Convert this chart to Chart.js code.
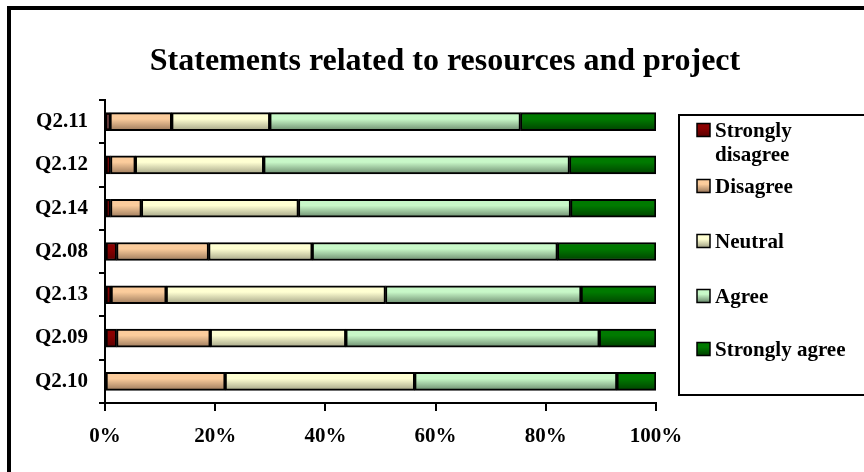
<!DOCTYPE html>
<html>
<head>
<meta charset="utf-8">
<title>Statements related to resources and project</title>
<script src="https://cdn.jsdelivr.net/npm/chart.js@4.4.1/dist/chart.umd.min.js"></script>
<style>
    html, body { margin: 0; padding: 0; background: #fff; }
    canvas { display: block; }
</style>
</head>
<body>
<canvas id="resourcesChart" width="864" height="472"></canvas>
<script>
const questions = ['Q2.11', 'Q2.12', 'Q2.14', 'Q2.08', 'Q2.13', 'Q2.09', 'Q2.10'];

// share of answers per statement, in percent
const stronglyDisagree = [0.9, 1.0, 1.0, 2.1, 1.1, 2.1, 0];
const disagree = [11.2, 4.5, 5.6, 16.7, 10.0, 17.0, 21.8];
const neutral = [17.8, 23.3, 28.5, 18.8, 39.8, 24.6, 34.4];
const agree = [45.5, 55.5, 49.4, 44.5, 35.5, 46.0, 36.7];
const stronglyAgree = [24.6, 15.7, 15.5, 17.9, 13.6, 10.3, 7.1];

const percentTicks = [0, 20, 40, 60, 80, 100];

const serif = '"Liberation Serif", "Times New Roman", serif';
const BAR = 18;

// light top fading to a darker bottom edge, one gradient per bar
function shade(top, bottom) {
    return (ctx) => {
        const chart = ctx.chart;
        const y = chart.scales.y;
        if (!y || !chart.chartArea || ctx.type !== 'data') return top;
        const yc = y.getPixelForValue(ctx.dataIndex);
        if (!Number.isFinite(yc)) return top;
        const g = chart.ctx.createLinearGradient(0, yc - BAR / 2, 0, yc + BAR / 2);
        g.addColorStop(0, top);
        g.addColorStop(0.35, top);
        g.addColorStop(1, bottom);
        return g;
    };
}

const series = [
    { label: 'Strongly disagree', data: stronglyDisagree, top: '#8a0000', bottom: '#5c0000' },
    { label: 'Disagree', data: disagree, top: '#fbcc9c', bottom: '#9c7a5c' },
    { label: 'Neutral', data: neutral, top: '#ffffd2', bottom: '#a4a486' },
    { label: 'Agree', data: agree, top: '#c8f8c8', bottom: '#6c8c6e' },
    { label: 'Strongly agree', data: stronglyAgree, top: '#007a00', bottom: '#004200' },
];

// outer frame, title and the boxed legend on the right
const decorations = {
    id: 'decorations',
    afterDraw(chart) {
        const ctx = chart.ctx;
        ctx.save();

        ctx.strokeStyle = '#000';
        ctx.lineWidth = 4;
        ctx.beginPath();
        ctx.moveTo(9, 480);
        ctx.lineTo(9, 8);
        ctx.lineTo(880, 8);
        ctx.stroke();

        ctx.fillStyle = '#000';
        ctx.font = 'bold 32px ' + serif;
        ctx.textAlign = 'center';
        ctx.textBaseline = 'alphabetic';
        ctx.fillText('Statements related to resources and project', 445, 70);

        ctx.lineWidth = 2;
        ctx.strokeRect(679, 115, 220, 280);

        const rows = [130, 186, 241, 296, 349];
        ctx.font = 'bold 21px ' + serif;
        ctx.textAlign = 'left';
        chart.data.datasets.forEach((ds, i) => {
            const cy = rows[i];
            const g = ctx.createLinearGradient(0, cy - 6, 0, cy + 6);
            g.addColorStop(0, series[i].top);
            g.addColorStop(0.35, series[i].top);
            g.addColorStop(1, series[i].bottom);
            ctx.fillStyle = g;
            ctx.fillRect(697, cy - 6.5, 13, 13);
            ctx.lineWidth = 1.5;
            ctx.strokeRect(697, cy - 6.5, 13, 13);
            ctx.fillStyle = '#000';
            const words = ds.label === 'Strongly disagree' ? ['Strongly', 'disagree'] : [ds.label];
            words.forEach((w, k) => ctx.fillText(w, 715, cy + 7 + k * 24));
        });

        ctx.restore();
    }
};

new Chart(document.getElementById('resourcesChart'), {
    type: 'bar',
    data: {
        labels: questions,
        datasets: series.map((s) => ({
            label: s.label,
            data: s.data,
            backgroundColor: shade(s.top, s.bottom),
            borderColor: '#000',
            borderWidth: 2,
            borderSkipped: false,
            barThickness: BAR,
        })),
    },
    options: {
        indexAxis: 'y',
        responsive: false,
        animation: false,
        devicePixelRatio: 1,
        layout: {
            padding: { top: 100, right: 208, left: 0, bottom: 0 },
        },
        plugins: {
            legend: { display: false },
            title: { display: false },
            tooltip: { enabled: false },
        },
        scales: {
            x: {
                stacked: true,
                min: 0,
                max: 100,
                afterBuildTicks: (scale) => {
                    scale.ticks = percentTicks.map((v) => ({ value: v }));
                },
                afterFit: (scale) => { scale.height = 69; },
                ticks: {
                    color: '#000',
                    font: { family: serif, size: 21, weight: 'bold' },
                    padding: 13,
                    maxRotation: 0,
                    callback: (v) => v + '%',
                },
                grid: {
                    drawOnChartArea: false,
                    tickLength: 8,
                    color: '#000',
                    lineWidth: 2,
                },
                border: { display: true, color: '#000', width: 2 },
            },
            y: {
                stacked: true,
                afterFit: (scale) => { scale.width = 105; },
                ticks: {
                    color: '#000',
                    font: { family: serif, size: 21, weight: 'bold' },
                    padding: 11,
                },
                grid: {
                    drawOnChartArea: false,
                    tickLength: 6,
                    color: '#000',
                    lineWidth: 2,
                },
                border: { display: true, color: '#000', width: 2 },
            },
        },
    },
    plugins: [decorations],
});
</script>
</body>
</html>
